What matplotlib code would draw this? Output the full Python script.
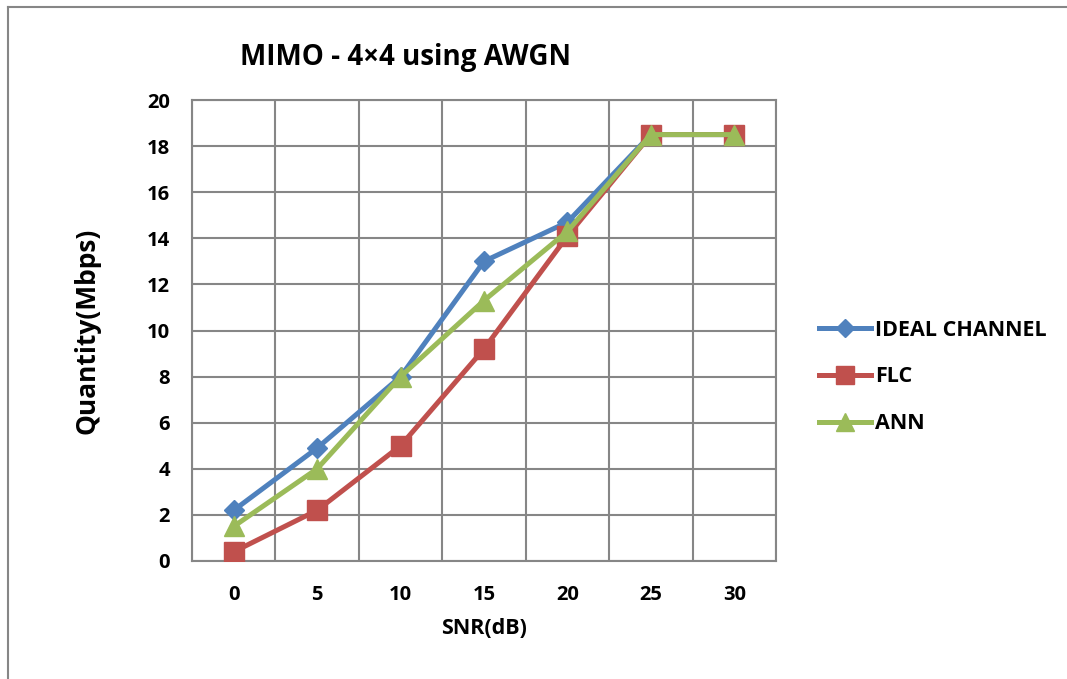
import matplotlib
matplotlib.use('Agg')
import matplotlib.pyplot as plt
from matplotlib.lines import Line2D

snr = ['0', '5', '10', '15', '20', '25', '30']
ideal = [2.2, 4.9, 8.0, 13.0, 14.7, 18.5, 18.5]
flc = [0.4, 2.2, 5.0, 9.2, 14.1, 18.5, 18.5]
ann = [1.5, 4.0, 8.0, 11.3, 14.3, 18.5, 18.5]
yticks = [0, 2, 4, 6, 8, 10, 12, 14, 16, 18, 20]

plt.rcParams['font.family'] = ['Open Sans', 'DejaVu Sans']
plt.rcParams['font.weight'] = 'bold'

fig = plt.figure(figsize=(10.67, 6.79), dpi=100)
ax = fig.add_axes([192 / 1067, 1 - 561 / 679, (776 - 192) / 1067, (561 - 100) / 679])

x = list(range(len(snr)))
ax.plot(x, ideal, color='#4F81BD', lw=3.6, marker='D', ms=10, label='IDEAL CHANNEL', zorder=3)
ax.plot(x, flc, color='#C0504D', lw=3.6, marker='s', ms=14, label='FLC', zorder=4)
ax.plot(x, ann, color='#9BBB59', lw=3.6, marker='^', ms=14, label='ANN', zorder=5)

ax.set_xlim(-0.5, len(snr) - 0.5)
ax.set_ylim(0, 20)
ax.set_xticks(x)
ax.set_xticklabels(snr)
ax.set_xticks([i - 0.5 for i in range(len(snr) + 1)], minor=True)
ax.set_yticks(yticks)
ax.grid(True, which='minor', axis='x', color='#868686', lw=1.5)
ax.grid(True, which='major', axis='y', color='#868686', lw=1.5)
ax.tick_params(which='both', length=0, labelsize=14.5)
ax.tick_params(axis='x', pad=17)
ax.tick_params(axis='y', pad=16)
for s in ax.spines.values():
    s.set_color('#868686')
    s.set_linewidth(1.5)

ax.set_xlabel('SNR(dB)', fontsize=15.5, fontweight='bold', labelpad=10)
ax.set_ylabel('Quantity(Mbps)', fontsize=19, fontweight='bold', labelpad=33)
fig.text(405 / 1067, 1 - 58 / 679, 'MIMO - 4×4 using AWGN', fontsize=20,
         fontweight='bold', ha='center', va='center')

leg = ax.legend(loc='center left', bbox_to_anchor=(800 / 1067, 1 - 377 / 679),
                bbox_transform=fig.transFigure, frameon=False, fontsize=15.5,
                handlelength=2.4, labelspacing=1.2, handletextpad=0.2, markerscale=0.9)

# outer chart border (top and left)
fig.add_artist(Line2D([8 / 1067, 1], [1 - 7 / 679] * 2, color='#868686', lw=1.5))
fig.add_artist(Line2D([8 / 1067] * 2, [0, 1 - 7 / 679], color='#868686', lw=1.5))

fig.savefig('out.png', dpi=100)
